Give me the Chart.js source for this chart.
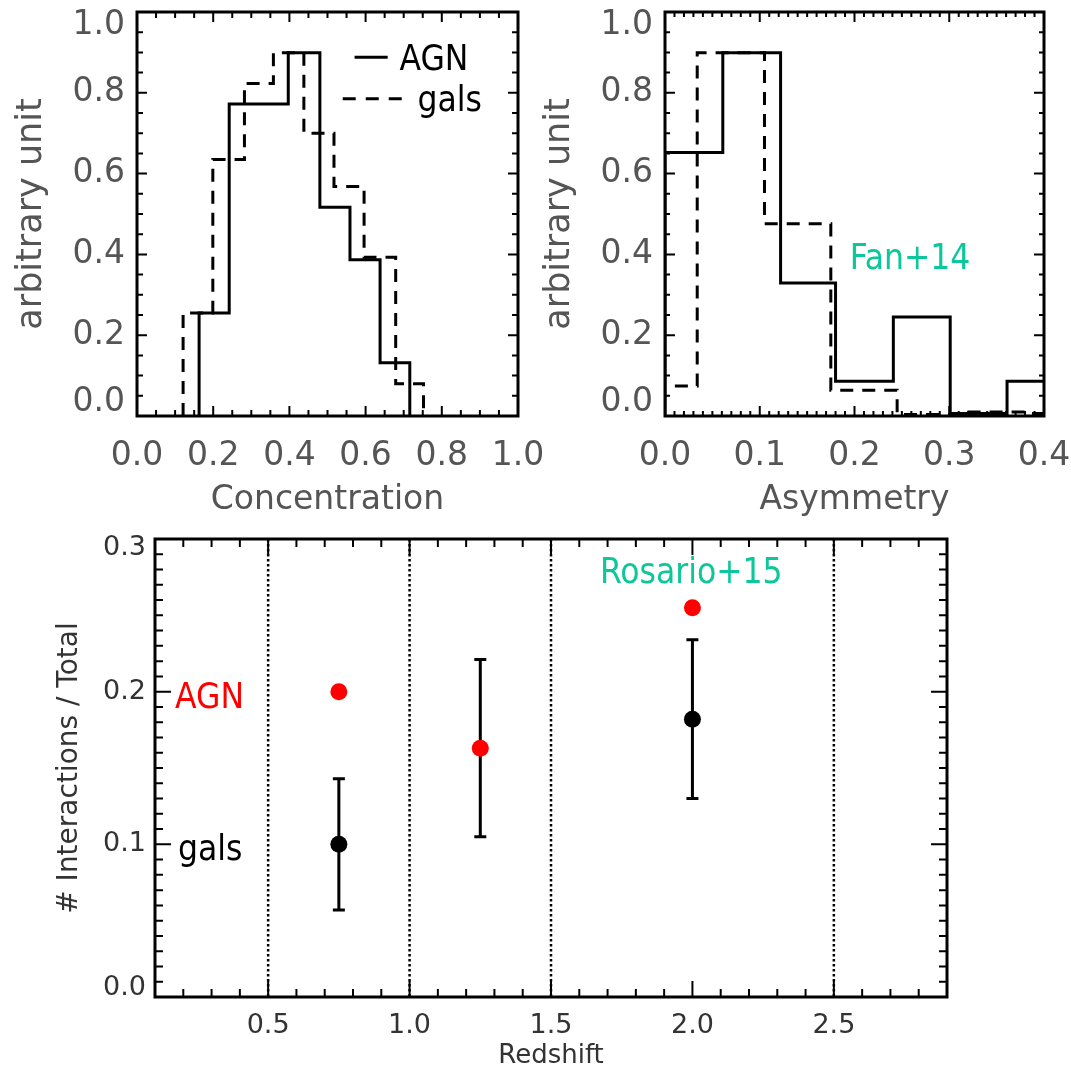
<!DOCTYPE html>
<html>
<head>
<meta charset="utf-8">
<script src="https://cdn.jsdelivr.net/npm/chart.js@4.4.1/dist/chart.umd.min.js"></script>
<style>
  html, body { margin: 0; padding: 0; background: #fff; }
  #page { position: relative; width: 1071px; height: 1072px; overflow: hidden; }
  canvas { position: absolute; }
</style>
</head>
<body>
<div id="page">
  <canvas id="conc" width="545" height="525" style="left:0;top:0;width:545px;height:525px"></canvas>
  <canvas id="asym" width="541" height="525" style="left:530px;top:0;width:541px;height:525px"></canvas>
  <canvas id="zplot" width="1071" height="547" style="left:0;top:525px;width:1071px;height:547px"></canvas>
</div>
<script>
// --- concentration histograms: bin edges and heights
const concEdgesAGN  = [0.163, 0.242, 0.320, 0.397, 0.480, 0.559, 0.638, 0.716];
const concAGN       = [0.255, 0.772, 0.772, 0.899, 0.517, 0.387, 0.132];
const concEdgesGals = [0.121, 0.199, 0.282, 0.358, 0.438, 0.517, 0.596, 0.679, 0.752];
const concGals      = [0.255, 0.635, 0.823, 0.899, 0.700, 0.568, 0.393, 0.080];

// --- asymmetry histograms
const asymEdgesAGN  = [0.000, 0.061, 0.122, 0.180, 0.241, 0.301, 0.361, 0.421];
const asymAGN       = [0.652, 0.899, 0.329, 0.086, 0.245, 0.006, 0.086];
const asymEdgesGals = [-0.036, 0.034, 0.105, 0.175, 0.245, 0.315, 0.385, 0.455];
const asymGals      = [0.074, 0.899, 0.476, 0.064, 0.004, 0.010, 0.006];

// --- interaction fraction vs redshift
const zAGN      = [0.75, 1.25, 2.0];
const fracAGN   = [0.200, 0.163, 0.255];
const errLoAGN  = [null, 0.105, null];
const errHiAGN  = [null, 0.221, null];
const zGals     = [0.75, 2.0];
const fracGals  = [0.100, 0.182];
const errLoGals = [0.057, 0.130];
const errHiGals = [0.143, 0.234];
const zBounds   = [0.5, 1.0, 1.5, 2.5];

// --- tick labels
const concTicks = [0, 0.2, 0.4, 0.6, 0.8, 1.0];
const asymTicks = [0, 0.1, 0.2, 0.3, 0.4];
const unitTicks = [0, 0.2, 0.4, 0.6, 0.8, 1.0];
const zTicks    = [0.5, 1.0, 1.5, 2.0, 2.5];
const fracTicks = [0, 0.1, 0.2, 0.3];

const TEAL = '#0cc79a';
const NOTE_FONT = "35px 'DejaVu Sans Condensed', 'DejaVu Sans', sans-serif";

Chart.defaults.font.family = "'DejaVu Sans', sans-serif";
Chart.defaults.animation = false;

function stepPoints(edges, heights) {
    const pts = [{ x: edges[0], y: 0 }];
    heights.forEach((h, i) => pts.push({ x: edges[i], y: h }));
    pts.push({ x: edges[edges.length - 1], y: 0 });
    return pts;
}

function fixedTicks(values) {
    return s => { s.ticks = values.map(v => ({ value: v })); };
}

function fixSize(prop, px) {
    return s => {
        s[prop] = px;
        s.paddingTop = s.paddingBottom = s.paddingLeft = s.paddingRight = 0;
    };
}

// end labels are pulled inside the box, like the original
function edgeLabel(min, max) {
    return v => v === max ? ['', v.toFixed(1)] : (v === min ? [v.toFixed(1), ''] : v.toFixed(1));
}

// box + inward ticks on all four sides
const frameTicks = {
    id: 'frameTicks',
    afterDraw(chart, args, o) {
        const { ctx, chartArea: a, scales: { x, y } } = chart;
        ctx.save();
        ctx.strokeStyle = '#000';
        ctx.lineWidth = 2;
        const run = (scale, step, major, horiz) => {
            const k0 = Math.ceil(scale.min / step - 1e-6), k1 = Math.floor(scale.max / step + 1e-6);
            for (let k = k0; k <= k1; k++) {
                const v = k * step;
                const isMajor = Math.abs(v / major - Math.round(v / major)) < 1e-6;
                const len = isMajor ? o.majLen : o.minLen;
                const p = scale.getPixelForValue(v);
                ctx.beginPath();
                if (horiz) {
                    ctx.moveTo(p, a.bottom); ctx.lineTo(p, a.bottom - len);
                    ctx.moveTo(p, a.top);    ctx.lineTo(p, a.top + len);
                } else {
                    ctx.moveTo(a.left, p);  ctx.lineTo(a.left + len, p);
                    ctx.moveTo(a.right, p); ctx.lineTo(a.right - len, p);
                }
                ctx.stroke();
            }
        };
        run(x, o.xStep, o.xMajor, true);
        run(y, o.yStep, o.yMajor, false);
        ctx.lineWidth = 3;
        ctx.strokeRect(a.left, a.top, a.right - a.left, a.bottom - a.top);
        ctx.restore();
    }
};

// free text and legend keys
const notes = {
    id: 'notes',
    afterDraw(chart, args, o) {
        const { ctx, scales: { x, y } } = chart;
        ctx.save();
        (o.lines || []).forEach(l => {
            ctx.beginPath();
            ctx.setLineDash(l.dash || []);
            ctx.lineWidth = 3;
            ctx.strokeStyle = '#000';
            ctx.moveTo(x.getPixelForValue(l.x0), y.getPixelForValue(l.y));
            ctx.lineTo(x.getPixelForValue(l.x1), y.getPixelForValue(l.y));
            ctx.stroke();
        });
        ctx.setLineDash([]);
        ctx.font = NOTE_FONT;
        ctx.textAlign = 'left';
        ctx.textBaseline = 'alphabetic';
        (o.labels || []).forEach(t => {
            ctx.fillStyle = t.color;
            ctx.fillText(t.text, x.getPixelForValue(t.x), y.getPixelForValue(t.y));
        });
        ctx.restore();
    }
};

// dotted redshift bin boundaries and error bars, under the points
const zExtras = {
    id: 'zExtras',
    beforeDatasetsDraw(chart, args, o) {
        const { ctx, chartArea: a, scales: { x, y } } = chart;
        ctx.save();
        ctx.strokeStyle = '#000';
        ctx.lineWidth = 2.5;
        ctx.setLineDash([2.5, 2.5]);
        (o.bounds || []).forEach(v => {
            const px = x.getPixelForValue(v);
            ctx.beginPath();
            ctx.moveTo(px, a.top);
            ctx.lineTo(px, a.bottom);
            ctx.stroke();
        });
        ctx.setLineDash([]);
        ctx.lineWidth = 3;
        (o.bars || []).forEach(b => {
            if (b.lo == null) return;
            const px = x.getPixelForValue(b.x);
            const lo = y.getPixelForValue(b.lo), hi = y.getPixelForValue(b.hi);
            ctx.beginPath();
            ctx.moveTo(px, lo); ctx.lineTo(px, hi);
            ctx.moveTo(px - 6, lo); ctx.lineTo(px + 6, lo);
            ctx.moveTo(px - 6, hi); ctx.lineTo(px + 6, hi);
            ctx.stroke();
        });
        ctx.restore();
    }
};

function histOptions(xTicks, xMax, xTitle, yAxisWidth, yTitlePad, tickOpts, labels, lines) {
    return {
        responsive: false,
        layout: { padding: { top: 12, right: 27, bottom: 0, left: 0 } },
        scales: {
            x: {
                type: 'linear', min: 0, max: xMax,
                grid: { display: false, drawTicks: false }, border: { display: false },
                afterBuildTicks: fixedTicks(xTicks),
                afterFit: fixSize('height', 109),
                ticks: { color: '#555', font: { size: 33 }, padding: 21, maxRotation: 0, autoSkip: false,
                         callback: v => v.toFixed(1) },
                title: { display: true, text: xTitle, color: '#555', font: { size: 33 }, padding: { top: 0, bottom: 5 } }
            },
            y: {
                type: 'linear', min: 0, max: 1,
                grid: { display: false, drawTicks: false }, border: { display: false },
                afterBuildTicks: fixedTicks(unitTicks),
                afterFit: fixSize('width', yAxisWidth),
                ticks: { color: '#555', font: { size: 33, lineHeight: 0.8 }, padding: 12, autoSkip: false,
                         callback: edgeLabel(0, 1) },
                title: { display: true, text: 'arbitrary unit', color: '#555', font: { size: 35 }, padding: { top: yTitlePad, bottom: 0 } }
            }
        },
        plugins: {
            legend: { display: false },
            tooltip: { enabled: false },
            frameTicks: tickOpts,
            notes: { labels: labels, lines: lines }
        }
    };
}

function histDataset(points, dashed) {
    return {
        data: points,
        stepped: true,
        borderColor: '#000',
        borderWidth: 3,
        borderDash: dashed ? [13, 9] : [],
        pointRadius: 0,
        fill: false
    };
}

new Chart(document.getElementById('conc'), {
    type: 'line',
    data: { datasets: [
        histDataset(stepPoints(concEdgesGals, concGals), true),
        histDataset(stepPoints(concEdgesAGN, concAGN), false)
    ] },
    options: histOptions(concTicks, 1, 'Concentration', 137, 11,
        { xStep: 0.05, xMajor: 0.2, yStep: 0.05, yMajor: 0.2, minLen: 6, majLen: 10 },
        [ { text: 'AGN', x: 0.689, y: 0.856, color: '#000' },
          { text: 'gals', x: 0.736, y: 0.755, color: '#000' } ],
        [ { x0: 0.571, x1: 0.658, y: 0.888 },
          { x0: 0.540, x1: 0.697, y: 0.785, dash: [13, 10] } ]),
    plugins: [frameTicks, notes]
});

new Chart(document.getElementById('asym'), {
    type: 'line',
    data: { datasets: [
        histDataset(stepPoints(asymEdgesGals, asymGals), true),
        histDataset(stepPoints(asymEdgesAGN, asymAGN), false)
    ] },
    options: histOptions(asymTicks, 0.4, 'Asymmetry', 135, 9,
        { xStep: 0.01, xMajor: 0.1, yStep: 0.05, yMajor: 0.2, minLen: 5, majLen: 10 },
        [ { text: 'Fan+14', x: 0.195, y: 0.365, color: TEAL } ],
        []),
    plugins: [frameTicks, notes]
});

new Chart(document.getElementById('zplot'), {
    type: 'scatter',
    data: { datasets: [
        { data: zGals.map((z, i) => ({ x: z, y: fracGals[i] })), pointRadius: 8.5, pointHoverRadius: 8.5,
          backgroundColor: '#000', borderWidth: 0 },
        { data: zAGN.map((z, i) => ({ x: z, y: fracAGN[i] })), pointRadius: 8.5, pointHoverRadius: 8.5,
          backgroundColor: '#ff0000', borderWidth: 0 }
    ] },
    options: {
        responsive: false,
        layout: { padding: { top: 14, right: 124, bottom: 0, left: 0 } },
        scales: {
            x: {
                type: 'linear', min: 0.1, max: 2.9,
                grid: { display: false, drawTicks: false }, border: { display: false },
                afterBuildTicks: fixedTicks(zTicks),
                afterFit: fixSize('height', 75),
                ticks: { color: '#333', font: { size: 27 }, padding: 13, maxRotation: 0, autoSkip: false,
                         callback: v => v.toFixed(1) },
                title: { display: true, text: 'Redshift', color: '#333', font: { size: 26 }, padding: { top: 0, bottom: 0 } }
            },
            y: {
                type: 'linear', min: 0, max: 0.3,
                grid: { display: false, drawTicks: false }, border: { display: false },
                afterBuildTicks: fixedTicks(fracTicks),
                afterFit: fixSize('width', 155),
                ticks: { color: '#333', font: { size: 27, lineHeight: 0.7 }, padding: 9, autoSkip: false,
                         callback: edgeLabel(0, 0.3) },
                title: { display: true, text: '# Interactions / Total', color: '#333', font: { size: 28 },
                         padding: { top: 53, bottom: 0 } }
            }
        },
        plugins: {
            legend: { display: false },
            tooltip: { enabled: false },
            frameTicks: { xStep: 0.1, xMajor: 0.5, yStep: 0.01, yMajor: 0.1, minLen: 8, majLen: 16 },
            zExtras: {
                bounds: zBounds,
                bars: zAGN.map((z, i) => ({ x: z, lo: errLoAGN[i], hi: errHiAGN[i] }))
                      .concat(zGals.map((z, i) => ({ x: z, lo: errLoGals[i], hi: errHiGals[i] })))
            },
            notes: { labels: [
                { text: 'AGN', x: 0.171, y: 0.189, color: '#ff0000' },
                { text: 'gals', x: 0.181, y: 0.090, color: '#000' },
                { text: 'Rosario+15', x: 1.673, y: 0.271, color: TEAL }
            ] }
        }
    },
    plugins: [zExtras, frameTicks, notes]
});
</script>
</body>
</html>
